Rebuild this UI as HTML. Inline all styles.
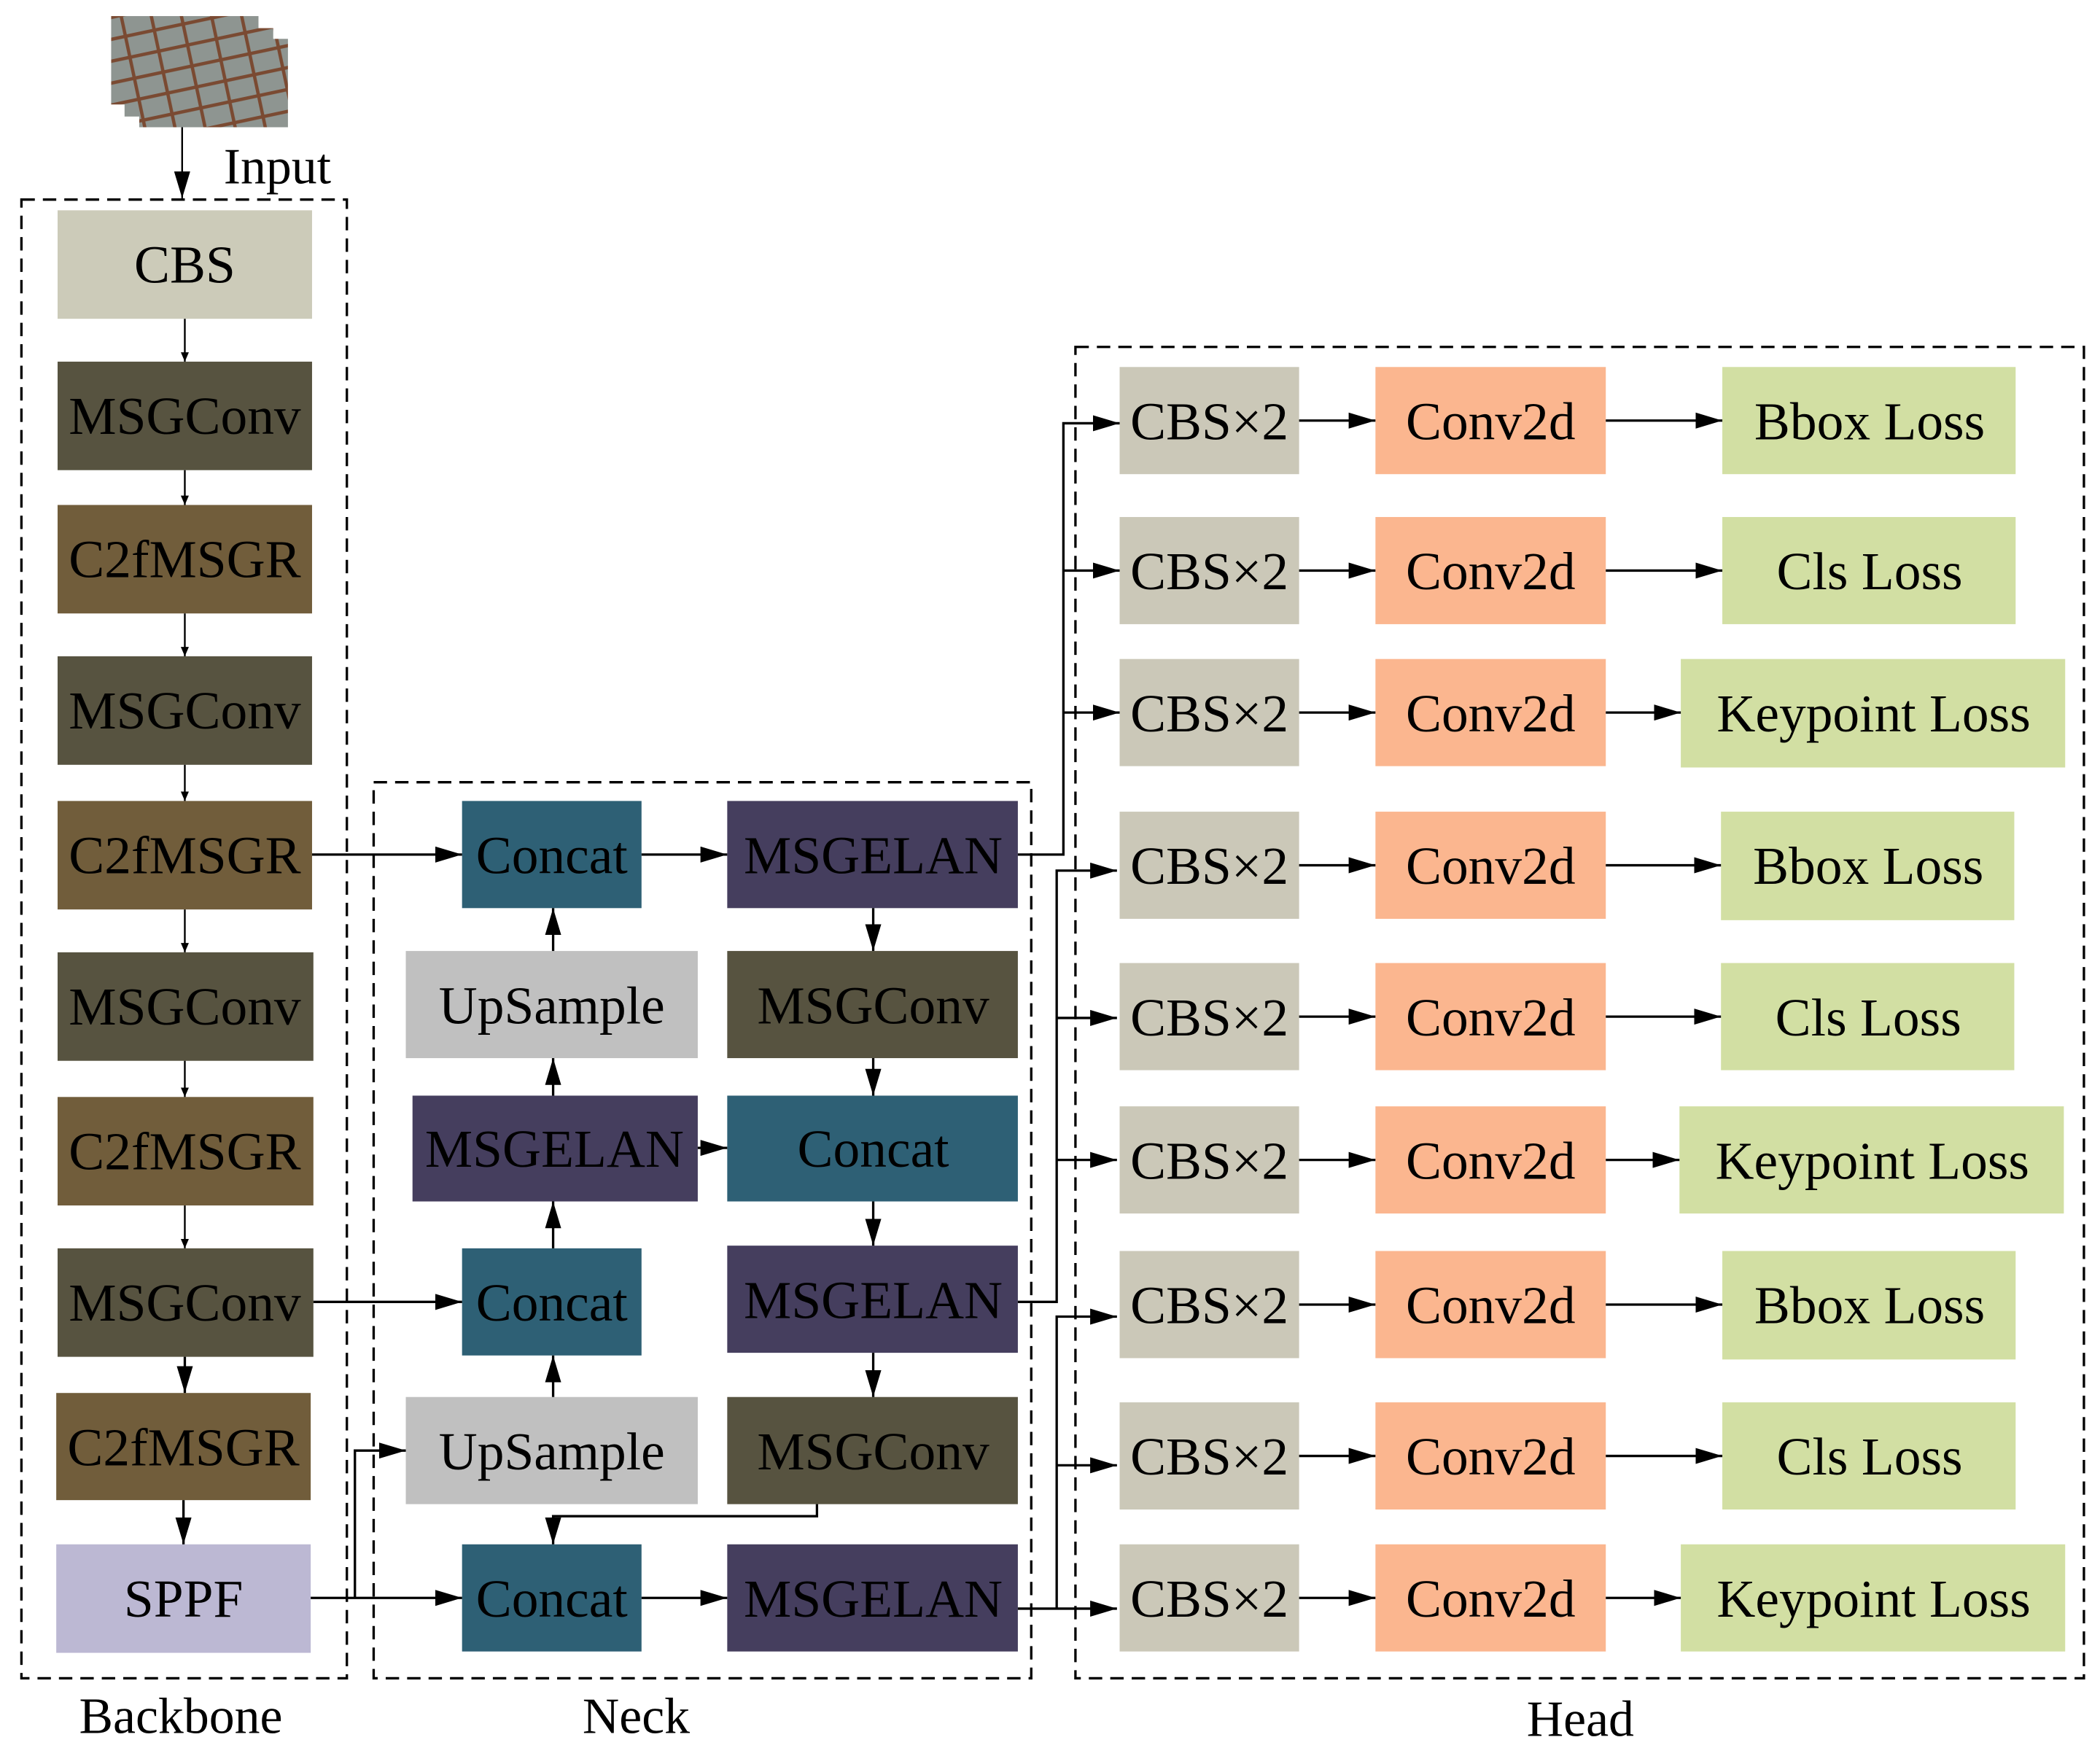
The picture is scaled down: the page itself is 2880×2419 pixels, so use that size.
<!DOCTYPE html>
<html><head><meta charset="utf-8"><style>
html,body{margin:0;padding:0;background:#fff}
svg{display:block}
text{font-family:"Liberation Serif",serif;fill:#000}
</style></head><body>
<svg width="2880" height="2419" viewBox="0 0 1568 1317" xmlns="http://www.w3.org/2000/svg">
<defs>
<marker id="a" viewBox="0 0 10 10" refX="10" refY="5" markerWidth="7" markerHeight="6" markerUnits="userSpaceOnUse" orient="auto" preserveAspectRatio="none"><path d="M0,0L10,5L0,10z" fill="#000"/></marker>
<marker id="b" viewBox="0 0 10 10" refX="10" refY="5" markerWidth="20" markerHeight="12" markerUnits="userSpaceOnUse" orient="auto" preserveAspectRatio="none"><path d="M0,0L10,5L0,10z" fill="#000"/></marker>
<pattern id="g" width="22" height="16" patternUnits="userSpaceOnUse" patternTransform="rotate(-12)"><rect width="22" height="16" fill="#8e9591"/><path d="M0,14H22M20,0V16" stroke="#7a4a32" stroke-width="2.5"/></pattern>
</defs>
<!-- input image stack -->
<rect x="83" y="12" width="110" height="66" fill="url(#g)"/>
<rect x="93" y="21" width="111" height="66" fill="url(#g)"/>
<rect x="104" y="29" width="111" height="66" fill="url(#g)"/>
<line x1="136" y1="95" x2="136" y2="148" stroke="#000" stroke-width="1.3" marker-end="url(#b)"/>
<text x="167" y="137" font-size="38">Input</text>

<!-- dashed groups -->
<g fill="none" stroke="#000" stroke-width="1.8" stroke-dasharray="10,6">
<rect x="16" y="149" width="243" height="1104"/>
<rect x="279" y="584" width="491" height="669"/>
<rect x="803" y="259" width="753" height="994"/>
</g>
<text x="135" y="1294" font-size="38" text-anchor="middle">Backbone</text>
<text x="475" y="1294" font-size="38" text-anchor="middle">Neck</text>
<text x="1180" y="1296" font-size="38" text-anchor="middle">Head</text>

<g font-size="40" text-anchor="middle">
<!-- backbone -->
<rect x="43" y="157" width="190" height="81" fill="#cccbb9"/><text x="138" y="211">CBS</text>
<rect x="43" y="270" width="190" height="81" fill="#575340"/><text x="138" y="324">MSGConv</text>
<rect x="43" y="377" width="190" height="81" fill="#715d3b"/><text x="138" y="431">C2fMSGR</text>
<rect x="43" y="490" width="190" height="81" fill="#575340"/><text x="138" y="544">MSGConv</text>
<rect x="43" y="598" width="190" height="81" fill="#715d3b"/><text x="138" y="652">C2fMSGR</text>
<rect x="43" y="711" width="191" height="81" fill="#575340"/><text x="138" y="765">MSGConv</text>
<rect x="43" y="819" width="191" height="81" fill="#715d3b"/><text x="138" y="873">C2fMSGR</text>
<rect x="43" y="932" width="191" height="81" fill="#575340"/><text x="138" y="986">MSGConv</text>
<rect x="42" y="1040" width="190" height="80" fill="#715d3b"/><text x="137" y="1094">C2fMSGR</text>
<rect x="42" y="1153" width="190" height="81" fill="#bcb8d3"/><text x="137" y="1207">SPPF</text>

<!-- neck left -->
<rect x="345" y="598" width="134" height="80" fill="#2e6075"/><text x="412" y="652">Concat</text>
<rect x="303" y="710" width="218" height="80" fill="#c0c0c0"/><text x="412" y="764">UpSample</text>
<rect x="308" y="818" width="213" height="79" fill="#453e5e"/><text x="414" y="871">MSGELAN</text>
<rect x="345" y="932" width="134" height="80" fill="#2e6075"/><text x="412" y="986">Concat</text>
<rect x="303" y="1043" width="218" height="80" fill="#c0c0c0"/><text x="412" y="1097">UpSample</text>
<rect x="345" y="1153" width="134" height="80" fill="#2e6075"/><text x="412" y="1207">Concat</text>
<!-- neck right -->
<rect x="543" y="598" width="217" height="80" fill="#453e5e"/><text x="652" y="652">MSGELAN</text>
<rect x="543" y="710" width="217" height="80" fill="#575340"/><text x="652" y="764">MSGConv</text>
<rect x="543" y="818" width="217" height="79" fill="#2e6075"/><text x="652" y="871">Concat</text>
<rect x="543" y="930" width="217" height="80" fill="#453e5e"/><text x="652" y="984">MSGELAN</text>
<rect x="543" y="1043" width="217" height="80" fill="#575340"/><text x="652" y="1097">MSGConv</text>
<rect x="543" y="1153" width="217" height="80" fill="#453e5e"/><text x="652" y="1207">MSGELAN</text>
</g>

<!-- head rows -->
<g font-size="40" text-anchor="middle">
<g id="r1">
<rect x="836" y="274" width="134" height="80" fill="#cbc8b8"/><text x="903" y="328">CBS×2</text>
<rect x="1027" y="274" width="172" height="80" fill="#fbb68f"/><text x="1113" y="328">Conv2d</text>
</g>
<use href="#r1" y="112"/><use href="#r1" y="218"/><use href="#r1" y="332"/><use href="#r1" y="445"/><use href="#r1" y="552"/><use href="#r1" y="660"/><use href="#r1" y="773"/><use href="#r1" y="879"/>
<rect x="1286" y="274" width="219" height="80" fill="#d2dfa3"/><text x="1396" y="328">Bbox Loss</text>
<rect x="1286" y="386" width="219" height="80" fill="#d2dfa3"/><text x="1396" y="440">Cls Loss</text>
<rect x="1255" y="492" width="287" height="81" fill="#d2dfa3"/><text x="1399" y="546">Keypoint Loss</text>
<rect x="1285" y="606" width="219" height="81" fill="#d2dfa3"/><text x="1395" y="660">Bbox Loss</text>
<rect x="1285" y="719" width="219" height="80" fill="#d2dfa3"/><text x="1395" y="773">Cls Loss</text>
<rect x="1254" y="826" width="287" height="80" fill="#d2dfa3"/><text x="1398" y="880">Keypoint Loss</text>
<rect x="1286" y="934" width="219" height="81" fill="#d2dfa3"/><text x="1396" y="988">Bbox Loss</text>
<rect x="1286" y="1047" width="219" height="80" fill="#d2dfa3"/><text x="1396" y="1101">Cls Loss</text>
<rect x="1255" y="1153" width="287" height="80" fill="#d2dfa3"/><text x="1399" y="1207">Keypoint Loss</text>
</g>

<!-- backbone arrows -->
<g stroke="#000" stroke-width="1.3" fill="none" marker-end="url(#a)">
<line x1="138" y1="238" x2="138" y2="270"/>
<line x1="138" y1="351" x2="138" y2="377"/>
<line x1="138" y1="458" x2="138" y2="490"/>
<line x1="138" y1="571" x2="138" y2="598"/>
<line x1="138" y1="679" x2="138" y2="711"/>
<line x1="138" y1="792" x2="138" y2="819"/>
<line x1="138" y1="900" x2="138" y2="932"/>
</g>
<g stroke="#000" stroke-width="1.8" fill="none" marker-end="url(#b)">
<line x1="138" y1="1013" x2="138" y2="1040"/>
<line x1="137" y1="1120" x2="137" y2="1153"/>
<!-- backbone->neck -->
<line x1="233" y1="638" x2="345" y2="638"/>
<line x1="234" y1="972" x2="345" y2="972"/>
<line x1="232" y1="1193" x2="345" y2="1193"/>
<polyline points="265,1193 265,1083 303,1083"/>
<!-- neck -->
<line x1="479" y1="638" x2="543" y2="638"/>
<line x1="479" y1="1193" x2="543" y2="1193"/>
<line x1="521" y1="857" x2="543" y2="857"/>
<line x1="652" y1="678" x2="652" y2="710"/>
<line x1="652" y1="790" x2="652" y2="818"/>
<line x1="652" y1="897" x2="652" y2="930"/>
<line x1="652" y1="1010" x2="652" y2="1043"/>
<polyline points="610,1123 610,1132 413,1132 413,1153"/>
<line x1="413" y1="710" x2="413" y2="678"/>
<line x1="413" y1="818" x2="413" y2="790"/>
<line x1="413" y1="932" x2="413" y2="897"/>
<line x1="413" y1="1043" x2="413" y2="1012"/>
<!-- neck->head -->
<polyline points="760,638 794,638 794,316 836,316"/>
<line x1="794" y1="426" x2="836" y2="426"/>
<line x1="794" y1="532" x2="836" y2="532"/>
<polyline points="760,972 789,972 789,650 834,650"/>
<line x1="789" y1="760" x2="834" y2="760"/>
<line x1="789" y1="866" x2="834" y2="866"/>
<polyline points="760,1201 834,1201"/>
<polyline points="789,1201 789,983 834,983"/>
<line x1="789" y1="1094" x2="834" y2="1094"/>
</g>
<!-- head internal arrows -->
<g stroke="#000" stroke-width="1.8" fill="none" marker-end="url(#b)">
<line x1="970" y1="314" x2="1027" y2="314"/><line x1="1199" y1="314" x2="1286" y2="314"/>
<line x1="970" y1="426" x2="1027" y2="426"/><line x1="1199" y1="426" x2="1286" y2="426"/>
<line x1="970" y1="532" x2="1027" y2="532"/><line x1="1199" y1="532" x2="1255" y2="532"/>
<line x1="970" y1="646" x2="1027" y2="646"/><line x1="1199" y1="646" x2="1285" y2="646"/>
<line x1="970" y1="759" x2="1027" y2="759"/><line x1="1199" y1="759" x2="1285" y2="759"/>
<line x1="970" y1="866" x2="1027" y2="866"/><line x1="1199" y1="866" x2="1254" y2="866"/>
<line x1="970" y1="974" x2="1027" y2="974"/><line x1="1199" y1="974" x2="1286" y2="974"/>
<line x1="970" y1="1087" x2="1027" y2="1087"/><line x1="1199" y1="1087" x2="1286" y2="1087"/>
<line x1="970" y1="1193" x2="1027" y2="1193"/><line x1="1199" y1="1193" x2="1255" y2="1193"/>
</g>
</svg>
</body></html>
